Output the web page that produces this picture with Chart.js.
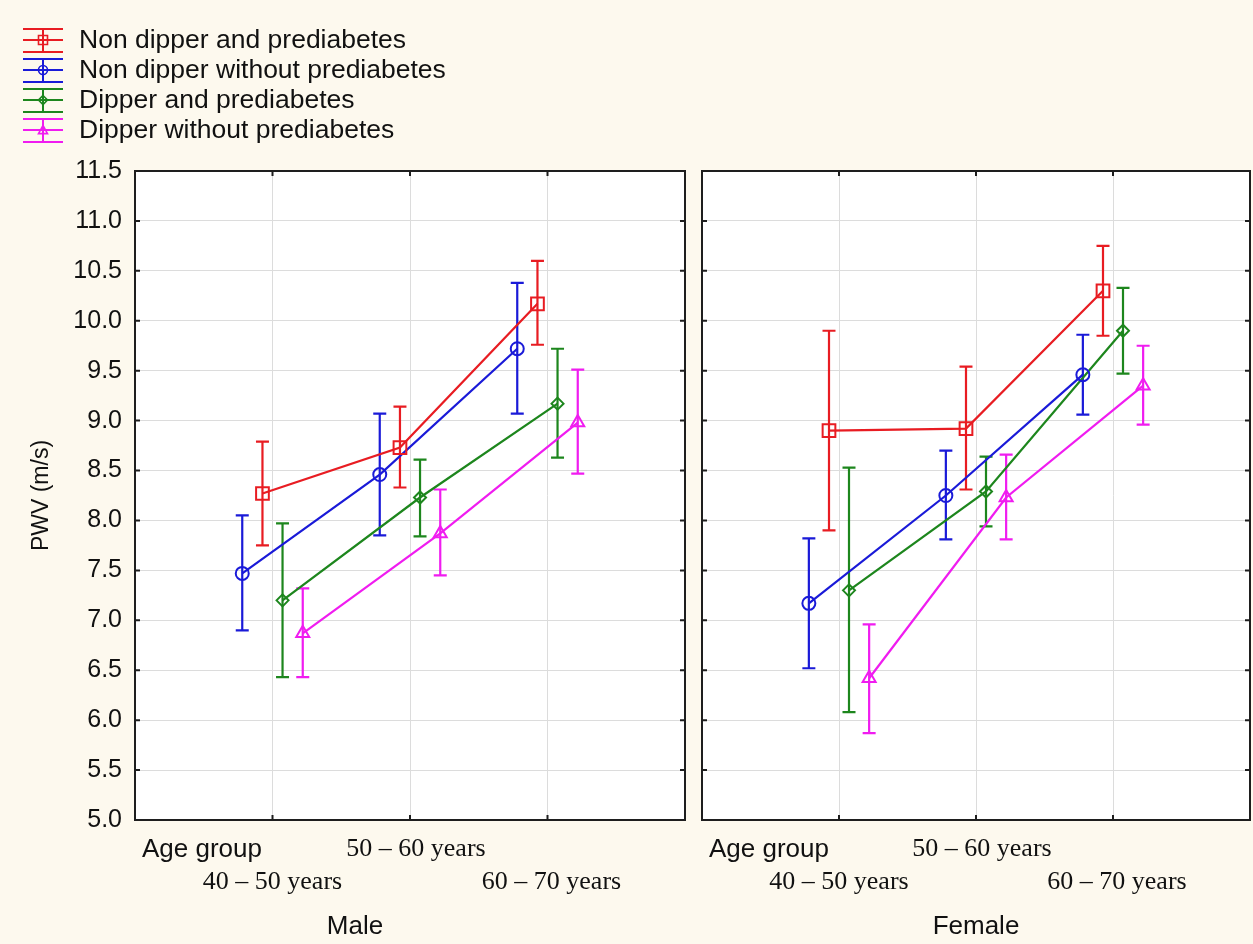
<!DOCTYPE html>
<html><head><meta charset="utf-8">
<script src="https://cdn.jsdelivr.net/npm/chart.js@4.4.1/dist/chart.umd.min.js"></script>
<style>
html,body{margin:0;padding:0;background:#fdf9ee;width:1253px;height:944px;overflow:hidden;}
.panel{position:absolute;top:0;height:944px;}
#wrapM{left:0;width:690px;}
#wrapF{left:690px;width:563px;}
</style></head><body>
<div id="wrapM" class="panel"><canvas id="male"></canvas></div>
<div id="wrapF" class="panel"><canvas id="female"></canvas></div>
<script>
// ---------- DATA ----------
const ageGroups = ['40 – 50 years', '50 – 60 years', '60 – 70 years'];
const seriesNames = ['Non dipper and prediabetes', 'Non dipper without prediabetes', 'Dipper and prediabetes', 'Dipper without prediabetes'];
const panelTitles = ['Male', 'Female'];
const xAxisTitle = 'Age group';
const yAxisTitle = 'PWV (m/s)';
const yMin = 5.0, yMax = 11.5, yStep = 0.5;

// Male: means and 95% CI limits
const maleNDP   = [8.27, 8.73, 10.17];
const maleNDPLo = [7.75, 8.33, 9.76];
const maleNDPHi = [8.79, 9.14, 10.60];
const maleND    = [7.47, 8.46, 9.72];
const maleNDLo  = [6.90, 7.85, 9.07];
const maleNDHi  = [8.05, 9.07, 10.38];
const maleDP    = [7.20, 8.23, 9.17];
const maleDPLo  = [6.43, 7.84, 8.63];
const maleDPHi  = [7.97, 8.61, 9.72];
const maleD     = [6.87, 7.87, 8.98];
const maleDLo   = [6.43, 7.45, 8.47];
const maleDHi   = [7.32, 8.31, 9.51];

// Female
const femaleNDP   = [8.90, 8.92, 10.30];
const femaleNDPLo = [7.90, 8.31, 9.85];
const femaleNDPHi = [9.90, 9.54, 10.75];
const femaleND    = [7.17, 8.25, 9.46];
const femaleNDLo  = [6.52, 7.81, 9.06];
const femaleNDHi  = [7.82, 8.70, 9.86];
const femaleDP    = [7.30, 8.29, 9.90];
const femaleDPLo  = [6.08, 7.94, 9.47];
const femaleDPHi  = [8.53, 8.64, 10.33];
const femaleD     = [6.42, 8.23, 9.35];
const femaleDLo   = [5.87, 7.81, 8.96];
const femaleDHi   = [6.96, 8.66, 9.75];

// ---------- STYLE ----------
const colors = ['#e81c22', '#1a1ad8', '#1d861d', '#f01cf0'];
const markers = ['rect', 'circle', 'rectRot', 'triangle'];
const markerRadius = [9, 6.5, 6, 7.5];
const groupOffsets = [-0.073, -0.22, 0.073, 0.22];
const SANS = '"Liberation Sans", Arial, sans-serif';
const SERIF = '"Liberation Serif", "Times New Roman", serif';

function buildDatasets(means, los, his) {
  return seriesNames.map((name, s) => ({
    label: name,
    data: means[s].map((v, i) => ({ x: i + 1 + groupOffsets[s], y: v })),
    errLo: los[s],
    errHi: his[s],
    showLine: true,
    borderColor: colors[s],
    borderWidth: 2.2,
    pointStyle: markers[s],
    pointRadius: markerRadius[s],
    pointBorderWidth: 2,
    pointBorderColor: colors[s],
    pointBackgroundColor: 'rgba(255,255,255,0)',
    tension: 0
  }));
}

function drawMarker(ctx, style, x, y, r, color) {
  ctx.save();
  ctx.strokeStyle = color; ctx.lineWidth = 1.6;
  ctx.beginPath();
  if (style === 'rect') { ctx.rect(x - r, y - r, 2 * r, 2 * r); }
  else if (style === 'circle') { ctx.arc(x, y, r, 0, Math.PI * 2); }
  else if (style === 'rectRot') { ctx.moveTo(x, y - r); ctx.lineTo(x + r, y); ctx.lineTo(x, y + r); ctx.lineTo(x - r, y); ctx.closePath(); }
  else { ctx.moveTo(x, y - r); ctx.lineTo(x + r, y + r * 0.8); ctx.lineTo(x - r, y + r * 0.8); ctx.closePath(); }
  ctx.stroke();
  ctx.restore();
}

const panelPlugin = {
  id: 'panel',
  beforeDraw(chart) {
    const a = chart.chartArea, ctx = chart.ctx;
    ctx.save();
    ctx.fillStyle = '#ffffff';
    ctx.fillRect(a.left, a.top, a.right - a.left, a.bottom - a.top);
    ctx.restore();
  },
  beforeDatasetsDraw(chart) {
    const ctx = chart.ctx, xs = chart.scales.x, ys = chart.scales.y;
    chart.data.datasets.forEach(ds => {
      ctx.save();
      ctx.strokeStyle = ds.borderColor; ctx.lineWidth = 2.2;
      ds.data.forEach((p, i) => {
        const x = xs.getPixelForValue(p.x);
        const y1 = ys.getPixelForValue(ds.errLo[i]);
        const y2 = ys.getPixelForValue(ds.errHi[i]);
        ctx.beginPath();
        ctx.moveTo(x, y1); ctx.lineTo(x, y2);
        ctx.moveTo(x - 6.5, y1); ctx.lineTo(x + 6.5, y1);
        ctx.moveTo(x - 6.5, y2); ctx.lineTo(x + 6.5, y2);
        ctx.stroke();
      });
      ctx.restore();
    });
  },
  afterDraw(chart, args, opts) {
    const ctx = chart.ctx, a = chart.chartArea, xs = chart.scales.x, ys = chart.scales.y;
    ctx.save();
    // frame
    ctx.strokeStyle = '#1e1e1e'; ctx.lineWidth = 2;
    ctx.strokeRect(a.left, a.top, a.right - a.left, a.bottom - a.top);
    // inward ticks
    ctx.lineWidth = 2;
    ctx.beginPath();
    ys.ticks.forEach(t => {
      const y = ys.getPixelForValue(t.value);
      ctx.moveTo(a.left, y); ctx.lineTo(a.left + 5, y);
      ctx.moveTo(a.right, y); ctx.lineTo(a.right - 5, y);
    });
    xs.ticks.forEach(t => {
      const x = xs.getPixelForValue(t.value);
      ctx.moveTo(x, a.top); ctx.lineTo(x, a.top + 5);
      ctx.moveTo(x, a.bottom); ctx.lineTo(x, a.bottom - 5);
    });
    ctx.stroke();

    // x axis texts
    ctx.fillStyle = '#111';
    ctx.textBaseline = 'middle';
    ctx.font = '26px ' + SANS;
    ctx.textAlign = 'left';
    ctx.fillText(xAxisTitle, a.left + 7, a.bottom + 30);
    ctx.font = '26px ' + SERIF;
    ctx.textAlign = 'center';
    const shifts = [0, 6, 4];
    ageGroups.forEach((g, i) => {
      const x = xs.getPixelForValue(i + 1) + shifts[i];
      const y = (i % 2 === 1) ? a.bottom + 29 : a.bottom + 62;
      ctx.fillText(g, x, y);
    });
    ctx.font = '26px ' + SANS;
    ctx.fillText(opts.title, xs.getPixelForValue(opts.titleX), a.bottom + 107);

    if (opts.yTitle) {
      ctx.save();
      ctx.translate(42, (a.top + a.bottom) / 2);
      ctx.rotate(-Math.PI / 2);
      ctx.font = '23px ' + SANS;
      ctx.textAlign = 'center';
      ctx.fillText(yAxisTitle, 0, 0);
      ctx.restore();
    }

    if (opts.legend) {
      const rowY = [40, 70, 100, 130];
      chart.data.datasets.forEach((ds, s) => {
        const cy = rowY[s], cx = 43;
        ctx.strokeStyle = colors[s]; ctx.lineWidth = 2;
        ctx.beginPath();
        ctx.moveTo(cx - 20, cy - 11); ctx.lineTo(cx + 20, cy - 11);
        ctx.moveTo(cx - 20, cy); ctx.lineTo(cx + 20, cy);
        ctx.moveTo(cx - 20, cy + 12); ctx.lineTo(cx + 20, cy + 12);
        ctx.moveTo(cx, cy - 11); ctx.lineTo(cx, cy + 12);
        ctx.stroke();
        drawMarker(ctx, markers[s], cx, cy, 4.5, colors[s]);
        ctx.fillStyle = '#111';
        ctx.font = '26.5px ' + SANS;
        ctx.textAlign = 'left';
        ctx.textBaseline = 'middle';
        ctx.fillText(ds.label, 79, cy + 1);
      });
    }
    ctx.restore();
  }
};

function makeChart(id, datasets, cfg) {
  return new Chart(document.getElementById(id), {
    type: 'scatter',
    data: { datasets },
    plugins: [panelPlugin],
    options: {
      responsive: true,
      maintainAspectRatio: false,
      animation: false,
      devicePixelRatio: 1,
      layout: { autoPadding: false, padding: { left: 0, right: cfg.padRight, top: 171, bottom: 124 } },
      plugins: {
        legend: { display: false },
        tooltip: { enabled: false },
        panel: { title: cfg.title, titleX: cfg.titleX, yTitle: cfg.yTitle, legend: cfg.legend }
      },
      scales: {
        x: {
          type: 'linear', min: 0, max: 4,
          ticks: { display: false, stepSize: 1 },
          grid: { color: '#dcdcdc', lineWidth: 1, drawTicks: false },
          border: { display: false },
          afterFit(scale) { scale.height = 0; scale.paddingLeft = 0; scale.paddingRight = 0; }
        },
        y: {
          type: 'linear', min: yMin, max: yMax,
          ticks: {
            display: cfg.yLabels, stepSize: yStep, padding: 13,
            color: '#111', font: { family: SANS, size: 25 },
            callback: v => v.toFixed(1)
          },
          grid: { color: '#dcdcdc', lineWidth: 1, drawTicks: false },
          border: { display: false },
          afterFit(scale) { scale.width = cfg.yWidth; }
        }
      }
    }
  });
}

makeChart('male',
  buildDatasets([maleNDP, maleND, maleDP, maleD], [maleNDPLo, maleNDLo, maleDPLo, maleDLo], [maleNDPHi, maleNDHi, maleDPHi, maleDHi]),
  { padRight: 5, yWidth: 135, yLabels: true, title: panelTitles[0], titleX: 1.6, yTitle: true, legend: true });

makeChart('female',
  buildDatasets([femaleNDP, femaleND, femaleDP, femaleD], [femaleNDPLo, femaleNDLo, femaleDPLo, femaleDLo], [femaleNDPHi, femaleNDHi, femaleDPHi, femaleDHi]),
  { padRight: 3, yWidth: 12, yLabels: false, title: panelTitles[1], titleX: 2.0, yTitle: false, legend: false });
</script>
</body></html>
